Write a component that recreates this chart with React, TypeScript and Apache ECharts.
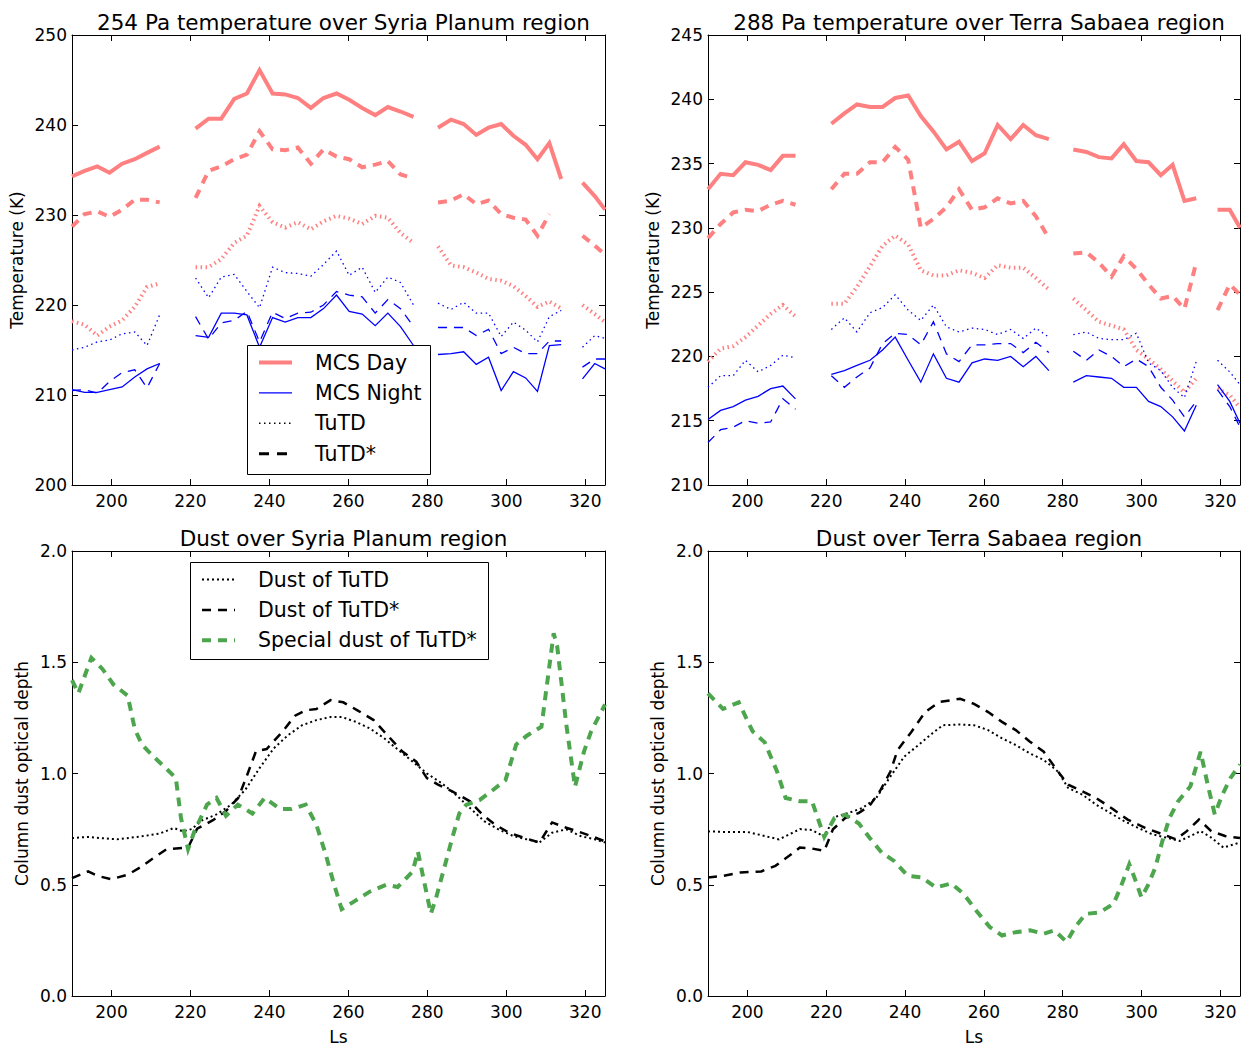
import React, { useEffect, useRef } from "react";
import * as echarts from "echarts";

// ---------- shared Ls sampling for temperature series (gap markers hold null values) ----------
const LS_TEMP = [
  190, 193.2, 196.4, 199.5, 202.7, 205.9, 209.0, 212.2, 216.5,
  221.3, 224.6, 227.8, 231.1, 234.3, 237.5, 240.8, 244.0, 247.2, 250.5, 253.7, 257.0, 260.2, 263.5, 266.8, 270.0, 273.2, 276.5, 279.5,
  282.7, 286.0, 289.2, 292.4, 295.5, 298.7, 301.8, 304.9, 307.9, 310.9, 313.9, 316.5,
  319.3, 322.4, 325.0,
];

// ---------- Syria Planum, 254 Pa ----------
const SP_MCS_DAY = [
  234.3, 234.9, 235.4, 234.7, 235.7, 236.2, 236.9, 237.6, null,
  239.6, 240.7, 240.7, 242.9, 243.5, 246.1, 243.5, 243.4, 243.0, 241.9, 243.0, 243.5, 242.8, 241.9, 241.1, 242.0, 241.5, 240.9, null,
  239.7, 240.6, 240.1, 238.9, 239.7, 240.1, 238.8, 237.8, 236.2, 238.0, 234.0, null,
  233.6, 232.1, 230.6,
];
const SP_TUTDSTAR_DAY = [
  228.7, 230.1, 230.4, 229.8, 230.6, 231.7, 231.7, 231.4, null,
  231.9, 234.9, 235.4, 236.2, 236.7, 239.3, 237.3, 237.2, 237.5, 235.7, 237.3, 236.5, 236.2, 235.3, 235.6, 236.0, 234.5, 234.1, null,
  231.4, 231.6, 232.3, 231.2, 231.6, 230.1, 229.7, 229.5, 227.7, 230.1, null, null,
  227.7, 226.6, 225.6,
];
const SP_TUTD_DAY = [
  218.2, 217.8, 216.6, 217.6, 218.3, 219.8, 222.0, 222.4, null,
  224.2, 224.2, 225.1, 226.9, 227.7, 231.0, 229.2, 228.6, 229.2, 228.4, 229.3, 229.9, 229.6, 229.0, 229.9, 229.7, 228.0, 226.9, null,
  226.5, 224.4, 224.2, 223.6, 222.9, 222.7, 222.1, 221.0, 219.8, 220.4, 219.6, null,
  220.0, 219.0, 218.1,
];
const SP_MCS_NIGHT = [
  210.6, 210.3, 210.3, 210.6, 210.9, 212.0, 212.9, 213.5, null,
  216.6, 216.4, 219.1, 219.1, 218.9, 215.3, 218.6, 218.1, 218.6, 218.6, 219.6, 221.1, 219.3, 219.0, 217.7, 219.1, 217.6, 215.5, null,
  214.5, 214.6, 214.8, 213.4, 214.2, 210.5, 212.6, 211.9, 210.4, 215.5, 215.6, null,
  211.8, 213.5, 212.9,
];
const SP_TUTDSTAR_NIGHT = [
  210.5, 210.6, 210.2, 211.5, 212.5, 212.8, 210.8, 213.5, null,
  218.7, 216.2, 218.0, 218.3, 219.3, 215.9, 219.2, 218.5, 219.1, 219.2, 220.0, 221.5, 221.1, 220.9, 219.1, 220.6, 219.6, 217.6, null,
  217.5, 217.5, 217.5, 216.6, 217.3, 214.6, 215.3, 214.6, 214.6, 216.0, 216.0, null,
  213.1, 214.0, 214.0,
];
const SP_TUTD_NIGHT = [
  215.0, 215.3, 215.9, 216.1, 216.8, 217.0, 215.5, 218.9, null,
  223.0, 220.8, 223.1, 223.4, 221.5, 219.7, 224.2, 223.6, 223.5, 223.2, 224.5, 226.0, 223.3, 224.2, 221.4, 223.1, 222.5, 220.0, null,
  220.2, 219.5, 220.3, 219.1, 219.1, 216.5, 218.1, 217.2, 215.9, 218.7, 219.4, null,
  215.3, 216.6, 216.3,
];

// ---------- Terra Sabaea, 288 Pa ----------
const TS_MCS_DAY = [
  233.0, 234.2, 234.1, 235.1, 234.9, 234.5, 235.6, 235.6, null,
  238.1, 238.9, 239.6, 239.4, 239.4, 240.1, 240.3, 238.7, 237.5, 236.1, 236.7, 235.2, 235.8, 238.0, 236.9, 238.0, 237.2, 236.9, null,
  236.1, 235.9, 235.5, 235.4, 236.5, 235.2, 235.1, 234.1, 234.9, 232.1, 232.3, null,
  231.4, 231.4, 230.0,
];
const TS_TUTDSTAR_DAY = [
  229.2, 230.3, 231.2, 231.4, 231.3, 231.8, 232.1, 231.8, null,
  233.0, 234.2, 234.2, 235.1, 235.1, 236.3, 235.3, 230.0, 230.7, 231.6, 233.0, 231.4, 231.6, 232.3, 231.9, 232.1, 230.9, 229.2, null,
  228.0, 228.1, 227.3, 226.2, 227.8, 226.8, 225.6, 224.5, 224.7, 223.7, 227.3, null,
  223.6, 225.6, 224.8,
];
const TS_TUTD_DAY = [
  219.6, 220.6, 220.8, 221.5, 222.4, 223.3, 224.0, 223.1, null,
  224.1, 224.1, 225.4, 227.0, 228.6, 229.4, 228.7, 226.7, 226.3, 226.3, 226.7, 226.5, 226.1, 227.1, 226.9, 226.9, 226.1, 225.2, null,
  224.5, 223.6, 222.7, 222.4, 222.1, 220.5, 219.8, 219.0, 218.1, 217.2, 218.3, null,
  217.5, 217.0, 216.0,
];
const TS_MCS_NIGHT = [
  215.1, 215.8, 216.1, 216.6, 216.9, 217.5, 217.7, 216.7, null,
  218.6, 218.9, 219.3, 219.7, 220.5, 221.5, 219.7, 218.0, 220.2, 218.3, 218.0, 219.5, 219.8, 219.7, 220.0, 219.2, 220.0, 218.9, null,
  218.0, 218.5, 218.4, 218.3, 217.6, 217.6, 216.5, 216.1, 215.3, 214.2, 216.2, null,
  217.8, 216.5, 214.8,
];
const TS_TUTDSTAR_NIGHT = [
  213.3, 214.3, 214.5, 215.0, 214.8, 214.9, 216.7, 215.9, null,
  218.5, 217.6, 218.4, 219.1, 221.0, 221.8, 221.7, 220.9, 222.7, 220.2, 219.6, 220.9, 220.9, 221.0, 221.0, 220.3, 221.1, 220.3, null,
  220.4, 219.7, 220.5, 220.0, 219.2, 219.8, 219.2, 217.6, 216.6, 215.3, 216.5, null,
  217.4, 216.1, 214.5,
];
const TS_TUTD_NIGHT = [
  217.6, 218.5, 218.5, 219.7, 218.8, 219.3, 220.1, 219.9, null,
  222.1, 223.0, 221.9, 223.4, 223.8, 224.8, 223.6, 222.8, 224.0, 222.3, 221.9, 222.2, 222.1, 221.7, 222.1, 221.4, 222.2, 221.5, null,
  221.7, 221.9, 221.4, 221.3, 221.3, 221.8, 219.5, 218.9, 217.6, 216.8, 219.6, null,
  219.7, 218.8, 217.8,
];

// ---------- Dust, Syria Planum ----------
const SP_SPECIAL_LS = [
  190, 191.6, 194.9, 197.7, 200.5, 204.1, 205.9, 207.7, 210.4, 214.0, 216.3, 217.6, 219.4, 221.0, 224.2, 226.6, 229.0,
  232.0, 235.7, 238.8, 242.7, 245.6, 249.2, 251.9, 254.2, 256.4, 258.3, 261.9, 265.5, 269.6, 272.5, 276.3, 277.6, 279.0,
  280.9, 282.2, 284.5, 286.3, 288.1, 289.9, 293.2, 296.2, 299.8, 302.5, 305.2, 308.9, 312.0, 312.9, 315.2, 317.4, 319.7,
  321.5, 325.0,
];
const SP_SPECIAL = [
  1.42, 1.36, 1.52, 1.47, 1.40, 1.35, 1.20, 1.13, 1.08, 1.02, 0.98, 0.80, 0.66, 0.74, 0.86, 0.89, 0.81,
  0.86, 0.82, 0.89, 0.84, 0.84, 0.86, 0.77, 0.64, 0.50, 0.39, 0.43, 0.47, 0.50, 0.49, 0.56, 0.65, 0.53,
  0.37, 0.44, 0.59, 0.71, 0.82, 0.86, 0.88, 0.92, 0.97, 1.13, 1.17, 1.21, 1.63, 1.57, 1.22, 0.94, 1.10,
  1.19, 1.31,
];
const SP_DUSTSTAR_LS = [
  190, 194.1, 196.4, 200.0, 204.1, 207.2, 210.8, 214.0, 219.4, 221.7, 225.7, 228.9, 232.1, 234.3, 236.6, 239.3, 243.4,
  246.5, 249.2, 251.9, 255.5, 258.7, 262.3, 266.4, 270.0, 273.6, 277.2, 279.9, 282.7, 286.3, 290.8, 293.9, 297.1,
  300.7, 304.3, 308.4, 311.6, 315.2, 317.9, 321.5, 325.0,
];
const SP_DUSTSTAR = [
  0.53, 0.56, 0.54, 0.525, 0.545, 0.577, 0.622, 0.66, 0.667, 0.752, 0.79, 0.83, 0.89, 0.99, 1.10, 1.11, 1.19,
  1.26, 1.284, 1.29, 1.33, 1.32, 1.284, 1.24, 1.17, 1.10, 1.053, 0.979, 0.95, 0.92, 0.875, 0.816, 0.771,
  0.734, 0.712, 0.69, 0.78, 0.756, 0.741, 0.719, 0.695,
];
const SP_DUST_LS = [
  190, 194.1, 197.7, 201.4, 205.0, 208.6, 212.2, 215.8, 218.1, 220.3, 223.0, 226.6, 230.3, 233.9, 237.5, 241.1, 244.7,
  248.3, 251.9, 255.5, 258.3, 261.9, 265.5, 269.1, 272.7, 276.3, 279.9, 283.6, 287.2, 290.8, 294.4, 298.0, 301.6,
  305.2, 308.4, 311.6, 315.2, 318.8, 322.4, 325.0,
];
const SP_DUST = [
  0.71, 0.715, 0.709, 0.704, 0.712, 0.72, 0.73, 0.755, 0.74, 0.75, 0.79, 0.816, 0.86, 0.927, 1.024, 1.113, 1.172,
  1.217, 1.24, 1.254, 1.254, 1.232, 1.202, 1.158, 1.105, 1.053, 1.0, 0.957, 0.905, 0.845, 0.786, 0.749, 0.72,
  0.704, 0.69, 0.734, 0.749, 0.719, 0.704, 0.69,
];

// ---------- Dust, Terra Sabaea ----------
const TS_SPECIAL_LS = [
  190, 193.8, 197.8, 201.3, 204.4, 207.5, 209.7, 213.3, 216.4, 219.5, 222.1, 224.8, 228.3, 231.0, 234.1, 237.2, 240.7,
  244.2, 247.8, 251.8, 254.9, 258.4, 261.5, 264.6, 268.1, 271.7, 275.2, 277.9, 281.0, 283.2, 285.8, 289.4, 292.9,
  294.7, 296.9, 298.2, 300.0, 301.8, 303.5, 305.3, 307.1, 309.3, 312.4, 315.0, 316.8, 318.6, 320.4, 322.6, 325.0,
];
const TS_SPECIAL = [
  1.36, 1.29, 1.32, 1.19, 1.14, 1.01, 0.89, 0.875, 0.875, 0.715, 0.80, 0.815, 0.775, 0.711, 0.644, 0.607, 0.54,
  0.533, 0.488, 0.506, 0.458, 0.376, 0.31, 0.272, 0.287, 0.295, 0.28, 0.295, 0.243, 0.31, 0.369, 0.376, 0.414,
  0.488, 0.592, 0.533, 0.443, 0.503, 0.577, 0.696, 0.80, 0.875, 0.942, 1.098, 0.95, 0.816, 0.90, 0.98, 1.04,
];
const TS_DUSTSTAR_LS = [
  190, 193.8, 198.2, 203.5, 207.1, 210.6, 213.3, 216.0, 219.5, 221.7, 224.8, 228.3, 231.0, 233.6, 236.3, 238.1, 241.6,
  245.1, 248.7, 254.0, 257.5, 261.1, 264.6, 268.1, 271.7, 275.2, 278.8, 281.4, 285.0, 288.5, 292.9, 296.5, 300.9,
  305.3, 308.8, 311.5, 314.6, 317.7, 321.2, 325.0,
];
const TS_DUSTSTAR = [
  0.533, 0.54, 0.555, 0.56, 0.585, 0.63, 0.667, 0.664, 0.652, 0.749, 0.80, 0.823, 0.855, 0.92, 1.009, 1.105, 1.187,
  1.276, 1.321, 1.336, 1.313, 1.276, 1.232, 1.195, 1.143, 1.098, 1.009, 0.95, 0.92, 0.89, 0.838, 0.793, 0.756,
  0.727, 0.704, 0.741, 0.793, 0.741, 0.719, 0.71,
];
const TS_DUST_LS = [
  190, 194.7, 200.0, 204.4, 208.0, 210.6, 213.3, 216.4, 219.5, 222.1, 225.7, 229.2, 232.7, 236.3, 239.8, 243.4, 246.9,
  249.6, 254.0, 257.5, 261.1, 264.6, 268.1, 271.7, 275.2, 278.8, 281.4, 285.0, 288.5, 292.0, 295.6, 299.1, 302.7,
  306.2, 309.7, 312.4, 315.0, 317.7, 320.8, 325.0,
];
const TS_DUST = [
  0.74, 0.737, 0.737, 0.719, 0.704, 0.726, 0.75, 0.746, 0.716, 0.804, 0.823, 0.845, 0.89, 0.987, 1.076, 1.128, 1.18,
  1.217, 1.22, 1.217, 1.195, 1.158, 1.128, 1.09, 1.061, 1.009, 0.935, 0.905, 0.86, 0.823, 0.786, 0.756, 0.727,
  0.712, 0.697, 0.719, 0.741, 0.712, 0.667, 0.69,
];

// ---------- axis ticks & texts ----------
const X_TICKS = [200, 220, 240, 260, 280, 300, 320];
const TITLES = [
  "254 Pa temperature over Syria Planum region",
  "288 Pa temperature over Terra Sabaea region",
  "Dust over Syria Planum region",
  "Dust over Terra Sabaea region",
];
const TEMP_LEGEND = ["MCS Day", "MCS Night", "TuTD", "TuTD*"];
const DUST_LEGEND = ["Dust of TuTD", "Dust of TuTD*", "Special dust of TuTD*"];

const FONT = "DejaVu Sans";
const PINK = "#ff8080";
const BLUE = "#0000ff";
const GREEN = "#4da64d";
const BLACK = "#000000";
const DASH = [9, 7];
const DOT = [1.5, 3.5];

const GRIDS = [
  { left: 72, top: 35, width: 533, height: 450 },
  { left: 708, top: 35, width: 532, height: 450 },
  { left: 72, top: 551, width: 533, height: 447 },
  { left: 708, top: 551, width: 532, height: 447 },
];

function pairs(xs: number[], ys: (number | null)[]) {
  return xs.map((x, i) => [x, ys[i] == null ? "-" : ys[i]]);
}

function lineSeries(gi: number, name: string, xs: number[], ys: (number | null)[], color: string, width: number, type: any, z = 2) {
  return {
    type: "line",
    name,
    xAxisIndex: gi * 2,
    yAxisIndex: gi * 2,
    data: pairs(xs, ys),
    showSymbol: false,
    symbol: "none",
    connectNulls: false,
    clip: true,
    z,
    lineStyle: { color, width, type, cap: "butt", join: "miter" },
    emphasis: { disabled: true },
  };
}

function axesFor(gi: number, yMin: number, yMax: number, yInt: number, yName: string, nameGap: number, xName: string, dec: number) {
  const common = {
    gridIndex: gi,
    splitLine: { show: false },
    axisLine: { show: true, onZero: false, lineStyle: { color: BLACK, width: 1 } },
  };
  const lbl = { fontSize: 17, fontFamily: FONT, color: BLACK };
  const xs = [
    {
      ...common,
      type: "value",
      position: "bottom",
      min: 190,
      max: 325,
      axisTick: { show: true, inside: true, length: 6, customValues: X_TICKS, lineStyle: { color: BLACK } },
      axisLabel: { ...lbl, show: true, margin: 7, customValues: X_TICKS },
      name: xName,
      nameLocation: "middle",
      nameGap: 32,
      nameTextStyle: { fontSize: 17, fontFamily: FONT, color: BLACK },
    },
    {
      ...common,
      type: "value",
      position: "top",
      min: 190,
      max: 325,
      axisTick: { show: true, inside: true, length: 6, customValues: X_TICKS, lineStyle: { color: BLACK } },
      axisLabel: { show: false, customValues: X_TICKS },
    },
  ];
  const ys = [
    {
      ...common,
      type: "value",
      position: "left",
      min: yMin,
      max: yMax,
      interval: yInt,
      axisTick: { show: true, inside: true, length: 6, lineStyle: { color: BLACK } },
      axisLabel: { ...lbl, show: true, margin: 5, formatter: (v: number) => v.toFixed(dec) },
      name: yName,
      nameLocation: "middle",
      nameRotate: 90,
      nameGap,
      nameTextStyle: { fontSize: 17, fontFamily: FONT, color: BLACK },
    },
    {
      ...common,
      type: "value",
      position: "right",
      min: yMin,
      max: yMax,
      interval: yInt,
      axisTick: { show: true, inside: true, length: 6, lineStyle: { color: BLACK } },
      axisLabel: { show: false },
    },
  ];
  return { xs, ys };
}

function legendBox(x: number, y: number, w: number, h: number, items: { label: string; color: string; width: number; dash: any }[]) {
  const els: any[] = [
    {
      type: "rect",
      z: 100,
      shape: { x: x + 0.5, y: y + 0.5, width: w, height: h },
      style: { fill: "#ffffff", stroke: BLACK, lineWidth: 1 },
    },
  ];
  items.forEach((it, i) => {
    const cy = y + 17.5 + i * 30.4;
    els.push({
      type: "line",
      z: 101,
      shape: { x1: x + 12, y1: cy, x2: x + 45, y2: cy },
      style: { stroke: it.color, lineWidth: it.width, lineDash: it.dash, lineCap: "butt" },
    });
    els.push({
      type: "text",
      z: 101,
      x: x + 68,
      y: cy,
      style: { text: it.label, fontSize: 20.5, fontFamily: FONT, fill: BLACK, verticalAlign: "middle", align: "left" },
    });
  });
  return els;
}

export default function App() {
  const ref = useRef<HTMLDivElement>(null);

  useEffect(() => {
    document.body.style.margin = "0";
    if (!ref.current) return;
    const chart = echarts.init(ref.current, null, { renderer: "svg" });

    const a0 = axesFor(0, 200, 250, 10, "Temperature (K)", 47, "", 0);
    const a1 = axesFor(1, 210, 245, 5, "Temperature (K)", 47, "", 0);
    const a2 = axesFor(2, 0, 2, 0.5, "Column dust optical depth", 42, "Ls", 1);
    const a3 = axesFor(3, 0, 2, 0.5, "Column dust optical depth", 42, "Ls", 1);

    const series: any[] = [
      // Syria Planum temperatures
      lineSeries(0, "MCS Day", LS_TEMP, SP_MCS_DAY, PINK, 4, "solid"),
      lineSeries(0, "TuTD* Day", LS_TEMP, SP_TUTDSTAR_DAY, PINK, 4, DASH),
      lineSeries(0, "TuTD Day", LS_TEMP, SP_TUTD_DAY, PINK, 4, DOT),
      lineSeries(0, "MCS Night", LS_TEMP, SP_MCS_NIGHT, BLUE, 1.3, "solid", 3),
      lineSeries(0, "TuTD* Night", LS_TEMP, SP_TUTDSTAR_NIGHT, BLUE, 1.3, DASH, 3),
      lineSeries(0, "TuTD Night", LS_TEMP, SP_TUTD_NIGHT, BLUE, 1.3, DOT, 3),
      // Terra Sabaea temperatures
      lineSeries(1, "MCS Day", LS_TEMP, TS_MCS_DAY, PINK, 4, "solid"),
      lineSeries(1, "TuTD* Day", LS_TEMP, TS_TUTDSTAR_DAY, PINK, 4, DASH),
      lineSeries(1, "TuTD Day", LS_TEMP, TS_TUTD_DAY, PINK, 4, DOT),
      lineSeries(1, "MCS Night", LS_TEMP, TS_MCS_NIGHT, BLUE, 1.3, "solid", 3),
      lineSeries(1, "TuTD* Night", LS_TEMP, TS_TUTDSTAR_NIGHT, BLUE, 1.3, DASH, 3),
      lineSeries(1, "TuTD Night", LS_TEMP, TS_TUTD_NIGHT, BLUE, 1.3, DOT, 3),
      // Dust Syria Planum
      lineSeries(2, "Dust of TuTD", SP_DUST_LS, SP_DUST, BLACK, 2, [2, 3]),
      lineSeries(2, "Dust of TuTD*", SP_DUSTSTAR_LS, SP_DUSTSTAR, BLACK, 2.5, DASH),
      lineSeries(2, "Special dust of TuTD*", SP_SPECIAL_LS, SP_SPECIAL, GREEN, 4, DASH, 3),
      // Dust Terra Sabaea
      lineSeries(3, "Dust of TuTD", TS_DUST_LS, TS_DUST, BLACK, 2, [2, 3]),
      lineSeries(3, "Dust of TuTD*", TS_DUSTSTAR_LS, TS_DUSTSTAR, BLACK, 2.5, DASH),
      lineSeries(3, "Special dust of TuTD*", TS_SPECIAL_LS, TS_SPECIAL, GREEN, 4, DASH, 3),
    ];

    const titles = TITLES.map((t, i) => {
      const g = GRIDS[i];
      return {
        text: t,
        left: g.left + g.width / 2,
        top: g.top - 29,
        textAlign: "center",
        textStyle: { fontSize: 21.5, fontWeight: "normal", fontFamily: FONT, color: BLACK },
      };
    });

    const graphic = [
      ...legendBox(247, 345, 183, 129, [
        { label: TEMP_LEGEND[0], color: PINK, width: 4, dash: null },
        { label: TEMP_LEGEND[1], color: BLUE, width: 1.3, dash: null },
        { label: TEMP_LEGEND[2], color: BLACK, width: 1.5, dash: DOT },
        { label: TEMP_LEGEND[3], color: BLACK, width: 3, dash: [10, 8] },
      ]),
      ...legendBox(190, 562, 298, 97, [
        { label: DUST_LEGEND[0], color: BLACK, width: 2, dash: [2, 3] },
        { label: DUST_LEGEND[1], color: BLACK, width: 2.5, dash: DASH },
        { label: DUST_LEGEND[2], color: GREEN, width: 4, dash: DASH },
      ]),
    ];

    chart.setOption({
      animation: false,
      backgroundColor: "#ffffff",
      textStyle: { fontFamily: FONT },
      title: titles,
      grid: GRIDS.map((g) => ({ ...g, containLabel: false, show: false })),
      xAxis: [...a0.xs, ...a1.xs, ...a2.xs, ...a3.xs],
      yAxis: [...a0.ys, ...a1.ys, ...a2.ys, ...a3.ys],
      series,
      graphic,
    });

    return () => chart.dispose();
  }, []);

  return <div ref={ref} style={{ width: 1243, height: 1046 }} />;
}
